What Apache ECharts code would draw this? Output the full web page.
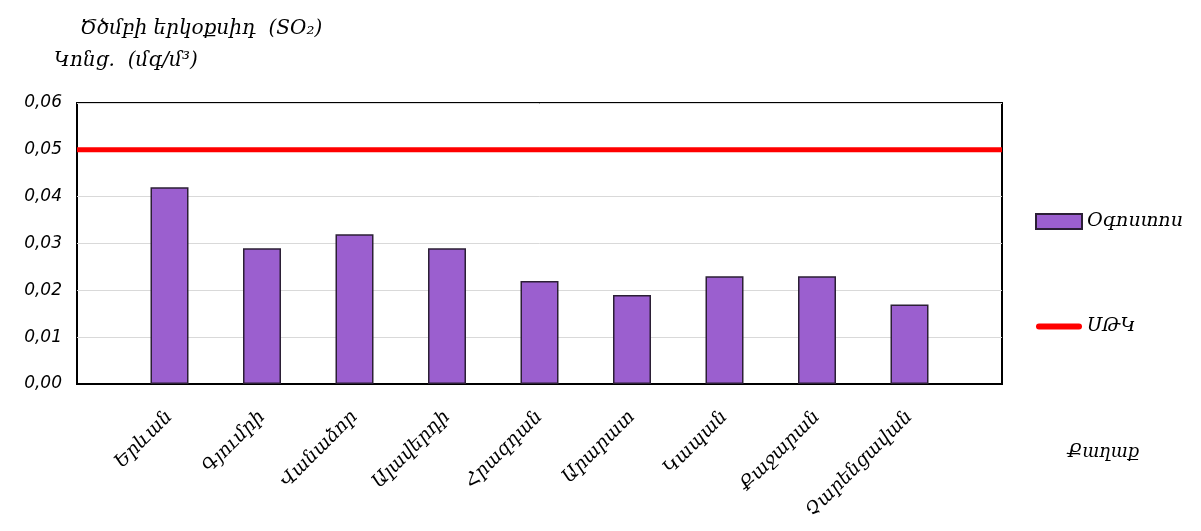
<!DOCTYPE html>
<html>
<head>
<meta charset="utf-8">
<script src="https://cdn.jsdelivr.net/npm/echarts@6/dist/echarts.min.js"></script>
<style>
  html, body { margin: 0; padding: 0; background: #fff; }
  #chart { width: 1201px; height: 531px; }
</style>
</head>
<body>
<div id="chart"></div>
<script>
// Cities measured (blank slots pad both ends of the axis)
const cities = ['', 'Երևան', 'Գյումրի', 'Վանաձոր', 'Ալավերդի', 'Հրազդան', 'Արարատ', 'Կապան', 'Քաջարան', 'Չարենցավան', ''];
// Mean SO2 concentration in August, mg/m3
const augustValues = [null, 0.042, 0.029, 0.032, 0.029, 0.022, 0.019, 0.023, 0.023, 0.017, null];
// Maximum allowable concentration
const macValues = [0.05, 0.05, 0.05, 0.05, 0.05, 0.05, 0.05, 0.05, 0.05, 0.05, 0.05];
// Y axis ticks
const yTicks = [0, 0.01, 0.02, 0.03, 0.04, 0.05, 0.06];

const seriesNames = ['Օգոստոս', 'ՍԹԿ'];
const titleLine1 = 'Ծծմբի երկօքսիդ  (SO₂)';
const titleLine2 = 'Կոնց.  (մգ/մ³)';
const xName = 'Քաղաք';

const font = 'DejaVu Serif';
const chart = echarts.init(document.getElementById('chart'), null, { renderer: 'canvas' });

chart.setOption({
  animation: false,
  backgroundColor: '#ffffff',
  title: [
    { text: titleLine1, left: 75, top: 14,
      textStyle: { fontFamily: font, fontStyle: 'italic', fontWeight: 'normal', fontSize: 20, color: '#000' } },
    { text: titleLine2, left: 49, top: 46,
      textStyle: { fontFamily: font, fontStyle: 'italic', fontWeight: 'normal', fontSize: 20, color: '#000' } },
    { text: xName, left: 1062, top: 438,
      textStyle: { fontFamily: font, fontStyle: 'italic', fontWeight: 'normal', fontSize: 18, color: '#000' } }
  ],
  legend: {
    orient: 'vertical',
    left: 1030,
    top: 207,
    itemWidth: 46,
    itemHeight: 15,
    itemGap: 86,
    data: [
      { name: seriesNames[0], icon: 'rect' },
      { name: seriesNames[1], icon: 'path://M3,0 L43,0 A3,3 0 0 1 43,6 L3,6 A3,3 0 0 1 3,0 Z' }
    ],
    textStyle: { fontFamily: font, fontStyle: 'italic', fontSize: 19, color: '#000' }
  },
  grid: {
    left: 77, right: 199, top: 103, bottom: 147,
    show: true, borderColor: '#000', borderWidth: 2, backgroundColor: 'transparent'
  },
  xAxis: {
    type: 'category',
    data: cities,
    boundaryGap: false,
    axisLine: { show: true, lineStyle: { color: '#000', width: 2 } },
    axisTick: { show: false },
    splitLine: { show: false },
    axisLabel: {
      interval: 0,
      rotate: 45,
      margin: 30,
      fontFamily: font,
      fontStyle: 'italic',
      fontSize: 19,
      color: '#000'
    }
  },
  yAxis: {
    type: 'value',
    min: yTicks[0],
    max: yTicks[yTicks.length - 1],
    interval: 0.01,
    axisLine: { show: false },
    axisTick: { show: false },
    splitLine: { show: true, lineStyle: { color: '#d9d9d9', width: 1 } },
    axisLabel: {
      margin: 15,
      fontFamily: 'DejaVu Sans',
      fontStyle: 'italic',
      fontSize: 17,
      color: '#000',
      formatter: v => v.toFixed(2).replace('.', ',')
    }
  },
  series: [
    {
      name: seriesNames[0],
      type: 'bar',
      data: augustValues,
      barWidth: 38,
      itemStyle: { color: '#9b5fcf', borderColor: '#2b1f35', borderWidth: 1.5 },
      z: 2
    },
    {
      name: seriesNames[1],
      type: 'line',
      data: macValues,
      symbol: 'none',
      lineStyle: { color: '#ff0000', width: 5 },
      itemStyle: { color: '#ff0000' },
      z: 3
    }
  ]
});
</script>
</body>
</html>
